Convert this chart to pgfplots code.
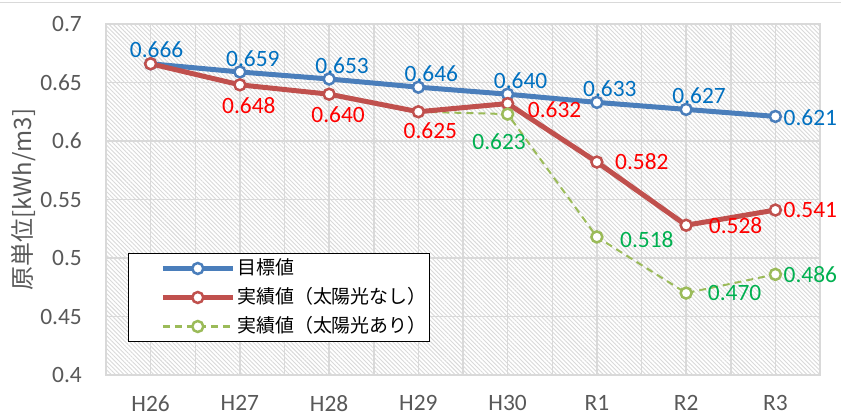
\documentclass[border=0pt]{standalone}
\usepackage{pgfplots}
\pgfplotsset{compat=1.18}
\usepackage{fontspec}
\setmainfont{Carlito}
\newfontfamily\jp{Noto Sans CJK JP}
\usetikzlibrary{patterns,patterns.meta}
\definecolor{cblue}{HTML}{4A7EBB}
\definecolor{cred}{HTML}{C0504D}
\definecolor{cgreen}{HTML}{9BBB59}
\definecolor{lblue}{HTML}{0070C0}
\definecolor{lred}{HTML}{FF0000}
\definecolor{lgreen}{HTML}{00B050}
\definecolor{tickgray}{HTML}{595959}
\definecolor{gridgray}{HTML}{D9D9D9}
\pgfplotsset{
  lbl/.style n args={4}{forget plot, draw=none, mark=none,
    point meta=explicit symbolic, nodes near coords={\pgfplotspointmeta},
    every node near coord/.append style={font=\fontsize{23.5}{26}\selectfont,
      text=#1, inner sep=0bp, anchor=center, xshift=#2, yshift=#3}},
}
\begin{document}
\begin{tikzpicture}
\useasboundingbox (0,0) rectangle (841bp,416bp);
\fill[white] (0,0) rectangle (841bp,416bp);
\draw[gridgray, line width=1.5bp] (0,413.5bp) -- (841bp,413.5bp);
\begin{axis}[
  at={(106bp,41bp)}, anchor=south west,
  scale only axis, width=714bp, height=351bp,
  xmin=-0.5, xmax=7.5, ymin=0.4, ymax=0.7,
  xtick={0,1,2,3,4,5,6,7},
  xticklabels={H26,H27,H28,H29,H30,R1,R2,R3},
  minor x tick num=1,
  ytick={0.4,0.45,0.5,0.55,0.6,0.65,0.7},
  yticklabels={0.4,0.45,0.5,0.55,0.6,0.65,0.7},
  xmajorgrids, xminorgrids, ymajorgrids,
  grid style={gridgray, line width=1.5bp},
  minor grid style={gridgray, line width=1.5bp},
  major tick length=0pt, minor tick length=0pt,
  axis line style={gridgray, line width=1.5bp},
  axis background/.style={pattern={Lines[angle=-45,distance=3bp,line width=0.9bp]}, pattern color=black!15},
  tick label style={font=\fontsize{23.5}{26}\selectfont, text=tickgray},
  yticklabel style={inner sep=0bp, anchor=east, xshift=-24bp},
  xticklabel style={inner sep=0bp, anchor=north, yshift=-20bp},
  ylabel={\jp 原単位[kWh/m3]},
  ylabel style={font=\jp\fontsize{24}{28}\selectfont, text=tickgray, at={(axis description cs:-0.115,0.5)}, anchor=center},
  clip=false,
  legend style={at={(0.031,0.348)}, anchor=north west, draw=black, line width=1.3bp,
    fill=white, font=\jp\fontsize{19}{22}\selectfont, text=black, row sep=2bp,
    inner xsep=1bp, inner ysep=1.5bp,
    nodes={text height=15bp, text depth=4bp, inner ysep=4bp, inner xsep=2bp}},
  legend cell align=left,
  legend image code/.code={\path[draw=none,fill=none] (0bp,0bp) (100bp,0bp);
    \draw[mark repeat=2, mark phase=2, #1] plot coordinates {(33bp,0bp) (68bp,0bp) (103bp,0bp)};},
]
% target
\addplot[cblue, line width=5bp, mark=*, mark size=5.5bp,
  mark options={fill=white, draw=cblue, line width=2.5bp, solid}]
  coordinates {(0,0.666)(1,0.659)(2,0.653)(3,0.646)(4,0.640)(5,0.633)(6,0.627)(7,0.621)};
\addlegendentry{目標値}
% green line (drawn under red)
\addplot[cgreen, line width=2bp, dash pattern=on 7bp off 5bp, forget plot]
  coordinates {(3,0.625)(4,0.623)(5,0.518)(6,0.470)(7,0.486)};
% actual without solar
\addplot[cred, line width=5bp, mark=*, mark size=5.5bp,
  mark options={fill=white, draw=cred, line width=2.5bp, solid}]
  coordinates {(0,0.666)(1,0.648)(2,0.640)(3,0.625)(4,0.632)(5,0.582)(6,0.528)(7,0.541)};
\addlegendentry{実績値（太陽光なし）}
\addlegendimage{cgreen, line width=2bp, dash pattern=on 7bp off 5bp, mark=*, mark size=5.5bp,
  mark options={fill=white, draw=cgreen, line width=2.5bp, solid}}
\addlegendentry{実績値（太陽光あり）}
% actual with solar: markers
\addplot[only marks, forget plot, mark=*, mark size=5.5bp,
  mark options={fill=white, draw=cgreen, line width=2.5bp, solid}]
  coordinates {(4,0.623)(5,0.518)(6,0.470)(7,0.486)};
% data labels
\addplot[lbl={lblue}{6bp}{14.5bp}] coordinates {(0,0.666) [0.666]};
\addplot[lbl={lblue}{13bp}{13.5bp}] coordinates {(1,0.659) [0.659] (2,0.653) [0.653] (3,0.646) [0.646] (4,0.640) [0.640] (5,0.633) [0.633] (6,0.627) [0.627]};
\addplot[lbl={lblue}{35bp}{-1bp}] coordinates {(7,0.621) [0.621]};
\addplot[lbl={lred}{9bp}{-20.5bp}] coordinates {(1,0.648) [0.648] (2,0.640) [0.640]};
\addplot[lbl={lred}{12bp}{-18.5bp}] coordinates {(3,0.625) [0.625]};
\addplot[lbl={lred}{47bp}{-6.5bp}] coordinates {(4,0.632) [0.632]};
\addplot[lbl={lred}{45bp}{0bp}] coordinates {(5,0.582) [0.582]};
\addplot[lbl={lred}{49.5bp}{0bp}] coordinates {(6,0.528) [0.528]};
\addplot[lbl={lred}{35bp}{0bp}] coordinates {(7,0.541) [0.541]};
\addplot[lbl={lgreen}{-8.5bp}{-27.4bp}] coordinates {(4,0.623) [0.623]};
\addplot[lbl={lgreen}{50bp}{-3bp}] coordinates {(5,0.518) [0.518]};
\addplot[lbl={lgreen}{48.5bp}{0bp}] coordinates {(6,0.470) [0.470]};
\addplot[lbl={lgreen}{35bp}{0bp}] coordinates {(7,0.486) [0.486]};
\end{axis}
\end{tikzpicture}
\end{document}
